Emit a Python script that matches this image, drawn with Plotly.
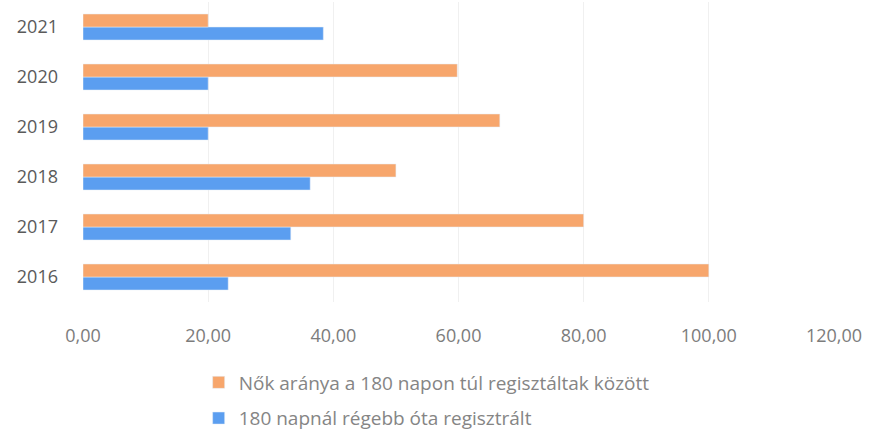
import plotly.graph_objects as go

years = ['2016', '2017', '2018', '2019', '2020', '2021']
regisztralt = [23.2, 33.2, 36.3, 20.0, 20.0, 38.4]
nok_aranya = [100.0, 80.0, 50.0, 66.6, 59.8, 20.0]
x_ticks = [0, 20, 40, 60, 80, 100, 120]
x_tick_text = ['0,00', '20,00', '40,00', '60,00', '80,00', '100,00', '120,00']

fig = go.Figure()
# blue first so it sits below the orange bar in each group
fig.add_trace(go.Bar(
    y=years, x=regisztralt, orientation='h',
    name='180 napnál régebb óta regisztrált',
    marker_color='#5b9ef0', legendgroup='b', legendrank=2
))
fig.add_trace(go.Bar(
    y=years, x=nok_aranya, orientation='h',
    name='Nők aránya a 180 napon túl regisztáltak között',
    marker_color='#f7a66c', legendgroup='a', legendrank=1
))

fig.update_layout(
    width=871, height=444,
    margin=dict(l=83, r=37, t=2, b=142),
    paper_bgcolor='white', plot_bgcolor='white',
    barmode='group', bargap=0.48, bargroupgap=0,
    font=dict(family='Open Sans, sans-serif', color='#6a6a6a'),
    legend=dict(
        orientation='v', traceorder='grouped',
        x=0.154, xanchor='left', y=-0.205, yanchor='top',
        font=dict(size=19, color='#858585'), tracegroupgap=8,
        itemwidth=30
    ),
)
fig.update_xaxes(
    range=[0, 120], tickvals=x_ticks, ticktext=x_tick_text,
    showgrid=True, gridcolor='#f0f0f0', zeroline=False,
    showline=False, ticklabelstandoff=21, automargin=False,
    tickfont=dict(size=18, color='#7c7c7c')
)
fig.update_yaxes(
    showgrid=False, showline=False, ticks='', ticklabelstandoff=24,
    automargin=False, tickfont=dict(size=18, color='#5a5a5a')
)

fig.write_html("out.html", config={'displayModeBar': False},
               post_script="document.body.style.margin='0';")
